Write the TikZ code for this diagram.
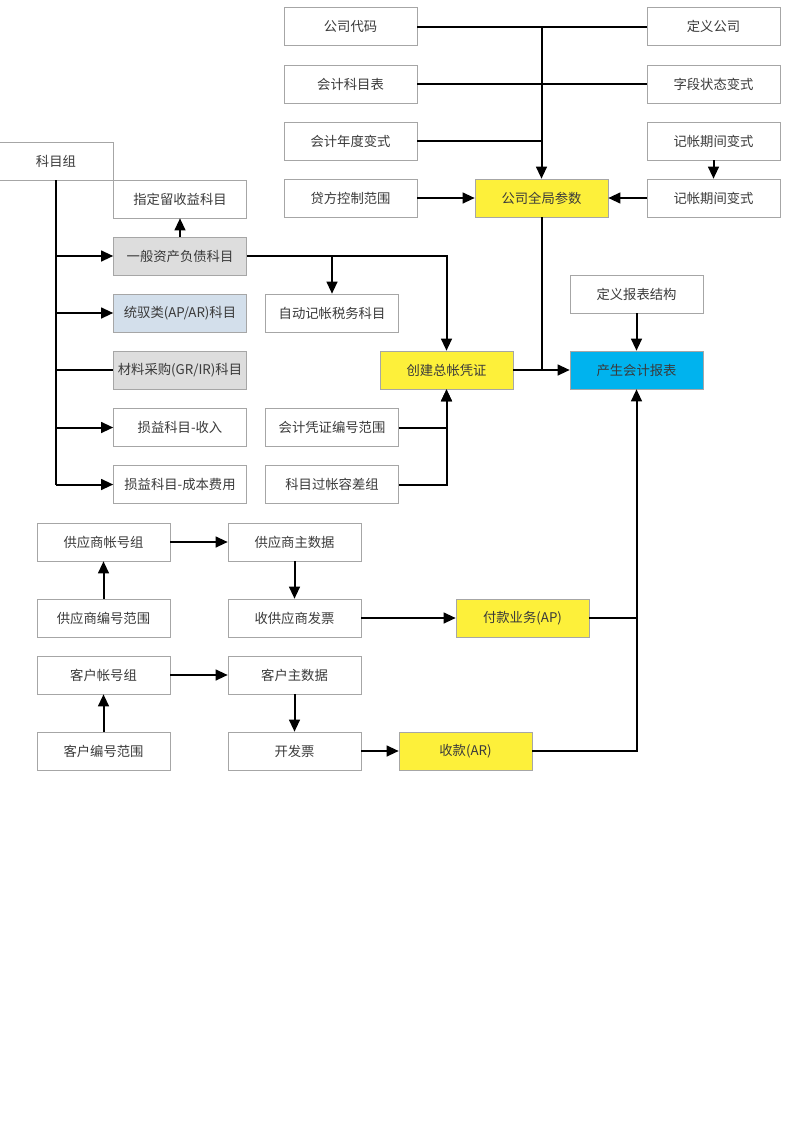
\documentclass[tikz,border=0pt]{standalone}
\usepackage{fontspec}
\usepackage{tikz}
\usetikzlibrary{arrows.meta}
\newfontfamily\cjk{Noto Sans CJK SC}

\definecolor{boxline}{HTML}{A6A6A6}
\definecolor{txtgray}{HTML}{3A3A3A}
\definecolor{keyyellow}{HTML}{FDF03A}
\definecolor{keycyan}{HTML}{00B3EE}
\definecolor{acctgray}{HTML}{DDDDDD}
\definecolor{acctblue}{HTML}{D3DFEB}

\begin{document}
\begin{tikzpicture}[x=0.75pt,y=-0.75pt,
    box/.style={draw=boxline,fill=white,minimum width=99.75pt,minimum height=28.5pt,
        inner sep=0pt,text=txtgray,font=\cjk\fontsize{10}{12}\selectfont},
    keybox/.style={box,fill=keyyellow},
    conn/.style={line width=1.5pt},
    arr/.style={conn,-{Triangle[length=9pt,width=8pt]}}]
    \useasboundingbox (0,0) rectangle (800,1132);

    % company settings
    \node[box] (gsdm) at (350.5,26.5) {公司代码};
    \node[box] (kmb)  at (350.5,84)   {会计科目表};
    \node[box] (ndbs) at (350.5,141)  {会计年度变式};
    \node[box] (dfkz) at (350.5,198)  {贷方控制范围};
    \node[box] (dygs) at (713.5,26.5) {定义公司};
    \node[box] (zdzt) at (713.5,84)   {字段状态变式};
    \node[box] (qjbsa) at (713.5,141) {记帐期间变式};
    \node[box] (qjbsb) at (713.5,198) {记帐期间变式};
    \node[keybox] (qjcs) at (541.5,198) {公司全局参数};

    \coordinate (qjtop) at (gsdm.east -| qjcs.north);
    \draw[conn] (gsdm.east) -- (dygs.west);
    \draw[conn] (kmb.east) -- (zdzt.west);
    \draw[conn] (ndbs.east) -- (ndbs.east -| qjcs.north);
    \draw[arr] (qjtop) -- (qjcs.north);
    \draw[arr] (dfkz) -- (qjcs);
    \draw[arr] (qjbsb) -- (qjcs);
    \draw[arr] (qjbsa) -- (qjbsb);

    % account groups
    \node[box,minimum width=85.5pt] (kmz) at (56,161) {科目组};
    \node[box] (zdlc) at (180,199)   {指定留收益科目};
    \node[box,fill=acctgray] (ybzc) at (180,256) {一般资产负债科目};
    \node[box,fill=acctblue] (tyl)  at (180,313) {统驭类(AP/AR)科目};
    \node[box,fill=acctgray] (clcg) at (180,370) {材料采购(GR/IR)科目};
    \node[box] (sysr) at (180,427.5) {损益科目-收入};
    \node[box] (sycb) at (180,484.5) {损益科目-成本费用};

    \draw[conn] (kmz.south) -- (kmz.south |- sycb.west);
    \foreach \n in {ybzc,tyl,sysr,sycb}
        \draw[arr] (kmz.south |- \n.west) -- (\n.west);
    \draw[conn] (kmz.south |- clcg.west) -- (clcg.west);
    \draw[arr] (ybzc.north) -- (zdlc.south);

    % general ledger
    \node[box] (zdjz) at (332,313)   {自动记帐税务科目};
    \node[box] (pzbh) at (332,427.5) {会计凭证编号范围};
    \node[box] (grc)  at (332,484.5) {科目过帐容差组};
    \node[keybox] (cjpz) at (446.5,370) {创建总帐凭证};
    \node[box] (dybb) at (636.5,294) {定义报表结构};
    \node[box,fill=keycyan] (csbb) at (636.5,370) {产生会计报表};

    \draw[arr] (ybzc.east) -| (cjpz.north);
    \draw[arr] (ybzc.east -| zdjz.north) -- (zdjz.north);
    \draw[arr] (pzbh.east) -| (cjpz.south);
    \draw[arr] (grc.east) -| (cjpz.south);
    \draw[arr] (cjpz) -- (csbb);
    \draw[conn] (qjcs.south) -- (qjcs.south |- cjpz.east);
    \draw[arr] (dybb) -- (csbb);

    % vendors and customers
    \node[box] (gyzh) at (103.5,542) {供应商帐号组};
    \node[box] (gyzs) at (294.5,542) {供应商主数据};
    \node[box] (gybh) at (103.5,618) {供应商编号范围};
    \node[box] (sfp)  at (294.5,618) {收供应商发票};
    \node[box] (khzh) at (103.5,675) {客户帐号组};
    \node[box] (khzs) at (294.5,675) {客户主数据};
    \node[box] (khbh) at (103.5,751) {客户编号范围};
    \node[box] (kfp)  at (294.5,751) {开发票};
    \node[keybox] (fkyw) at (522.5,618) {付款业务(AP)};
    \node[keybox] (sk)   at (465.5,751) {收款(AR)};

    \draw[arr] (gybh) -- (gyzh);
    \draw[arr] (gyzh) -- (gyzs);
    \draw[arr] (gyzs) -- (sfp);
    \draw[arr] (sfp) -- (fkyw);
    \draw[arr] (khbh) -- (khzh);
    \draw[arr] (khzh) -- (khzs);
    \draw[arr] (khzs) -- (kfp);
    \draw[arr] (kfp) -- (sk);
    \draw[arr] (sk.east) -| (csbb.south);
    \draw[conn] (fkyw.east) -- (fkyw.east -| csbb.south);
\end{tikzpicture}
\end{document}
